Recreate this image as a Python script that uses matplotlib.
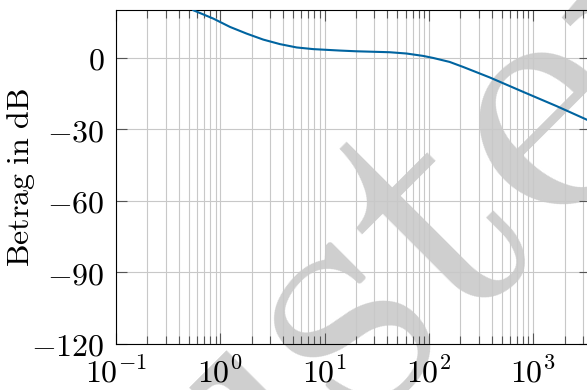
"""
Bode magnitude plot (Betrag in dB) with a "Muster" watermark.
"""

import numpy as np
import matplotlib
matplotlib.use("Agg")
import matplotlib.pyplot as plt
from matplotlib.ticker import FixedLocator, FixedFormatter, LogLocator, NullFormatter

# Values
freq = [0.551, 0.857, 1.24, 1.79, 2.58, 3.73, 5.4, 7.8, 14.0, 20.0, 42.0,
        61.0, 88.0, 110.0, 158.0, 214.0, 385.0, 800.0, 1680.0, 3240.0, 3500.0]
mag_db = [19.9, 16.4, 12.9, 10.1, 7.6, 5.7, 4.3, 3.6, 3.0, 2.7, 2.3,
          1.76, 0.76, -0.1, -1.76, -3.9, -8.3, -14.3, -20.3, -25.9, -26.6]

x_ticks = [0.1, 1, 10, 100, 1000]
x_tick_labels = [r'$10^{-1}$', r'$10^{0}$', r'$10^{1}$', r'$10^{2}$', r'$10^{3}$']
y_ticks = [0, -30, -60, -90, -120]
y_tick_labels = [r'$0$', r'$-30$', r'$-60$', r'$-90$', r'$-120$']

plt.rcParams['mathtext.fontset'] = 'cm'

W, H = 587, 390
fig = plt.figure(figsize=(W / 100, H / 100), dpi=100)

# axes box in pixels: left 116, right ~590 (just off the picture), top 10, bottom 344
left, right, top, bottom = 116, 590, 10, 344
ax = fig.add_axes([left / W, 1 - bottom / H, (right - left) / W, (bottom - top) / H])
ax.patch.set_alpha(0)

# watermark behind everything
fig.text(374 / W, 1 - 419 / H, r'$\mathrm{Muster}$', fontsize=252,
         color='#cfcfcf', rotation=45, rotation_mode='anchor',
         ha='center', va='baseline', zorder=-5)

ax.semilogx(freq, mag_db, color='#0064a0', lw=1.5, zorder=3)

ax.set_xlim(0.1, 10 ** 3.545)
ax.set_ylim(-120, 20)

ax.xaxis.set_major_locator(FixedLocator(x_ticks))
ax.xaxis.set_major_formatter(FixedFormatter(x_tick_labels))
ax.xaxis.set_minor_locator(LogLocator(base=10, subs=np.arange(2, 10), numticks=20))
ax.xaxis.set_minor_formatter(NullFormatter())
ax.yaxis.set_major_locator(FixedLocator(y_ticks))
ax.yaxis.set_major_formatter(FixedFormatter(y_tick_labels))

ax.grid(True, which='major', color='#c8c8c8', lw=0.8)
ax.grid(True, which='minor', axis='x', color='#c8c8c8', lw=0.8)
ax.set_axisbelow(True)

ax.tick_params(which='both', direction='in', top=True, right=True,
               color='#555555', width=0.8, labelsize=23)
ax.tick_params(which='major', length=8, pad=8)
ax.tick_params(axis='x', which='major', pad=10)
ax.tick_params(which='minor', length=5.5)

for sp in ax.spines.values():
    sp.set_linewidth(0.8)

fig.text(21.5 / W, 1 - 177 / H, r'$\mathrm{Betrag\ in\ dB}$', fontsize=23,
         rotation=90, ha='center', va='center')

fig.savefig('out.png', dpi=100)
